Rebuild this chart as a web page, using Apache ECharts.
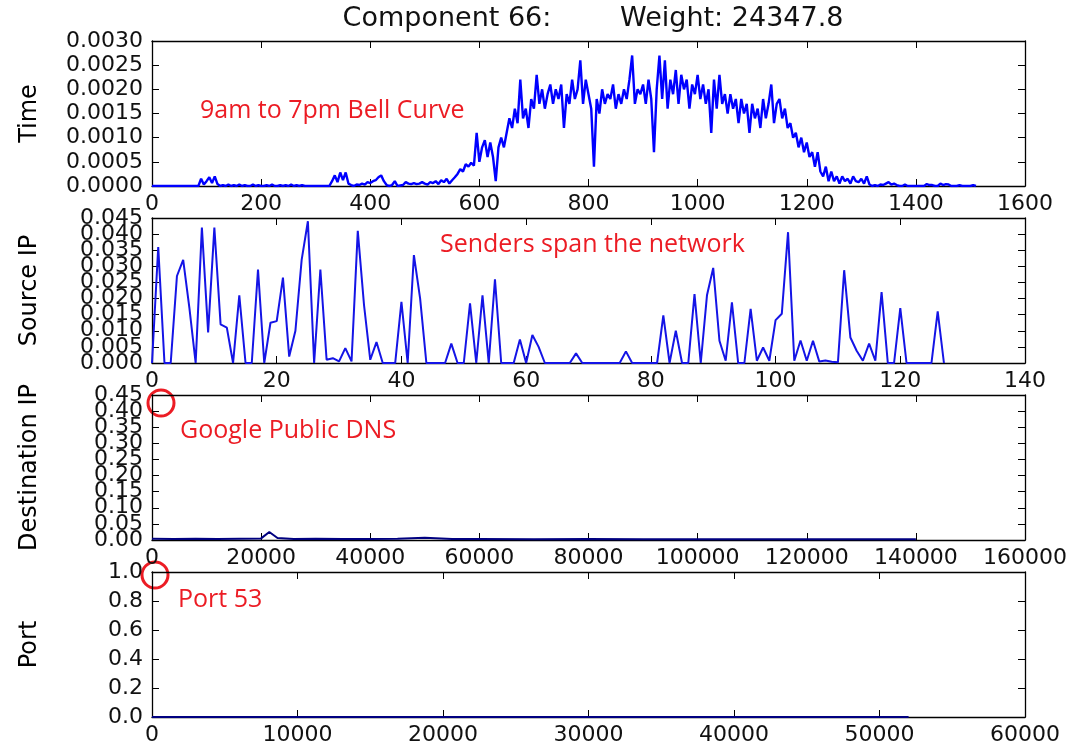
<!DOCTYPE html>
<html>
<head>
<meta charset="utf-8">
<title>Component 66</title>
<script src="https://cdn.jsdelivr.net/npm/echarts@6/dist/echarts.min.js"></script>
<style>
html, body { margin: 0; padding: 0; background: #fff; }
#chart { width: 1087px; height: 746px; }
</style>
</head>
<body>
<div id="chart"></div>
<script>
// Time profile, one value read every 5 units (0 .. 1510)
const timeStep = 5;
const timeVals = [
  0, 0, 0, 0, 0, 0, 0, 0, 0, 0, 0, 0, 0, 0, 0, 0, 0, 0, 0.00015, 0.00003,
  0.0001, 0.00018, 0.00006, 0.0002, 0.00004, 0, 0.00002, 0, 0.00003, 0, 0.00002, 0, 0.00003, 0, 0.00002, 0, 0, 0.00003, 0, 0.00002,
  0, 0, 0.00002, 0, 0.00003, 0, 0, 0.00002, 0, 0.00002, 0, 0.00003, 0, 0.00002, 0, 0.00002, 0, 0, 0, 0,
  0, 0, 0, 0, 0, 0, 0.0001, 0.00022, 0.00008, 0.00028, 0.00012, 0.00028, 0.00005, 0.00002, 0, 0.00003, 0.00002, 0.00005, 0.00003, 0.00008,
  0.00006, 0.0001, 0.00012, 0.00018, 0.00022, 0.0001, 0.00002, 0, 0.00002, 0.0001, 0, 0.00001, 0.00002, 0.00008, 0.00005, 0.00004, 0.00006, 0.00004, 0.00005, 0.00008,
  0.00005, 0.00003, 0.00008, 0.00006, 0.0001, 0.00004, 0.00012, 0.00008, 0.00015, 0.00005, 0.00012, 0.00018, 0.00025, 0.00035, 0.0003, 0.00045, 0.0004, 0.00048, 0.00042, 0.0011,
  0.0005, 0.0008, 0.00095, 0.0006, 0.0009, 0.0006, 0.0001, 0.0008, 0.001, 0.0008, 0.0011, 0.0014, 0.0012, 0.0016, 0.0013, 0.0022, 0.0014, 0.0016, 0.0012, 0.0018,
  0.0016, 0.0023, 0.0017, 0.002, 0.0016, 0.0019, 0.0021, 0.0017, 0.002, 0.0018, 0.0021, 0.0012, 0.0019, 0.0017, 0.0022, 0.0018, 0.002, 0.0026, 0.0017, 0.0022,
  0.0019, 0.0016, 0.0004, 0.0018, 0.0015, 0.002, 0.0017, 0.0019, 0.0018, 0.0021, 0.0016, 0.0019, 0.0017, 0.002, 0.0018, 0.0022, 0.0027, 0.0017, 0.002, 0.0019,
  0.0021, 0.0017, 0.0022, 0.0018, 0.0007, 0.002, 0.0027, 0.0018, 0.0026, 0.0016, 0.0022, 0.0019, 0.0024, 0.0017, 0.0023, 0.002, 0.0022, 0.0016, 0.0021, 0.0019,
  0.0023, 0.0018, 0.0021, 0.0017, 0.002, 0.0011, 0.0022, 0.0016, 0.0023, 0.0017, 0.0019, 0.0015, 0.0019, 0.0016, 0.0018, 0.0013, 0.0018, 0.0015, 0.0017, 0.0011,
  0.0017, 0.0014, 0.0016, 0.0012, 0.0018, 0.0014, 0.0017, 0.0021, 0.0013, 0.0017, 0.0018, 0.0014, 0.0016, 0.0012, 0.0013, 0.001, 0.0011, 0.0008, 0.001, 0.0007,
  0.0009, 0.0006, 0.0007, 0.0004, 0.0007, 0.0003, 0.0002, 0.0004, 0.0001, 0.0003, 0.0001, 0.0002, 0.00005, 0.0002, 0.0001, 0.00015, 0.00005, 0.0002, 0.0001, 0.00008,
  0.00015, 0.00005, 0.0002, 0.00003, 0, 0.00002, 0, 0.00003, 0.00002, 0.00005, 0.00008, 0.00003, 0.00005, 0.00002, 0, 0, 0.00003, 0, 0, 0,
  0, 0, 0, 0, 0.00004, 0.00002, 0.00002, 0, 0, 0.00005, 0.00002, 0.00004, 0.00003, 0, 0, 0, 0.00002, 0, 0, 0,
  0, 0.00002, 0
];

// Source IP, one value per index 0 .. 127
const sourceVals = [
  0, 0.036, 0, 0, 0.027, 0.032, 0.017, 0, 0.042, 0.0095,
  0.042, 0.012, 0.011, 0, 0.021, 0, 0, 0.029, 0, 0.0125,
  0.013, 0.0265, 0.002, 0.010, 0.032, 0.044, 0, 0.029, 0.001, 0.0015,
  0.0005, 0.0046, 0.0005, 0.041, 0.018, 0.001, 0.0065, 0, 0, 0,
  0.019, 0, 0.0335, 0.020, 0, 0, 0, 0, 0.006, 0,
  0, 0.0185, 0, 0.021, 0, 0.026, 0, 0, 0, 0.0073,
  0, 0.0087, 0.005, 0, 0, 0, 0, 0, 0.003, 0,
  0, 0, 0, 0, 0, 0, 0.0036, 0, 0, 0,
  0, 0, 0.0148, 0, 0.010, 0, 0, 0.0214, 0, 0.021,
  0.0295, 0.0069, 0.0007, 0.0188, 0, 0, 0.0168, 0.0007, 0.0048, 0.0007,
  0.0133, 0.0153, 0.0406, 0.0007, 0.007, 0.0007, 0.0069, 0.0005, 0.0008, 0.0004,
  0.0002, 0.0288, 0.0079, 0.0038, 0.0007, 0.006, 0.0007, 0.022, 0, 0,
  0.017, 0, 0, 0, 0, 0, 0.016, 0
];

// Destination IP
const destX = [0, 4000, 8000, 12000, 16000, 20000, 21500, 23000, 26000, 30000,
  35000, 40000, 45000, 50000, 55000, 60000, 70000, 80000, 90000, 100000,
  110000, 120000, 130000, 140000];
const destY = [0.004, 0.003, 0.004, 0.003, 0.004, 0.005, 0.025, 0.006, 0.003, 0.004,
  0.003, 0.003, 0.004, 0.007, 0.003, 0.003, 0.002, 0.003, 0.002, 0.002,
  0.002, 0.002, 0.002, 0.002];

// Port
const portX = [0, 52000];
const portY = [0, 0];

const panelNames = ['Time', 'Source IP', 'Destination IP', 'Port'];
const xMax = [1600, 140, 160000, 60000];
const xStep = [200, 20, 20000, 10000];
const yMax = [0.003, 0.045, 0.45, 1.0];
const yStep = [0.0005, 0.005, 0.05, 0.2];
const yDigits = [4, 3, 2, 1];

const gridTops = [41, 218, 395, 572];
const gridH = 145;
const font = 'DejaVu Sans';

let grids = [], xAxes = [], yAxes = [];
panelNames.forEach(function (name, k) {
  grids.push({ left: 152, right: 62, top: gridTops[k], height: gridH });
  const tick = { show: true, inside: true, length: 7, lineStyle: { color: '#000', width: 1 } };
  const line = { show: true, onZero: false, lineStyle: { color: '#000', width: 1.3 } };
  const yFmt = function (v) { return v.toFixed(yDigits[k]); };
  xAxes.push({
    type: 'value', gridIndex: k, min: 0, max: xMax[k], interval: xStep[k],
    axisLine: line, axisTick: tick, splitLine: { show: false },
    axisLabel: {
      color: '#111', fontFamily: font, fontSize: 22, margin: 7,
      showMinLabel: true, showMaxLabel: true,
      formatter: function (v) { return String(v); }
    }
  });
  xAxes.push({
    type: 'value', gridIndex: k, position: 'top', min: 0, max: xMax[k], interval: xStep[k],
    axisLine: line, axisTick: tick, splitLine: { show: false }, axisLabel: { show: false }
  });
  // left axis: inner tick labels (min/max labels come from the next axis so none get dropped)
  yAxes.push({
    type: 'value', gridIndex: k, min: 0, max: yMax[k], interval: yStep[k],
    name: name, nameLocation: 'middle', nameGap: 110,
    nameTextStyle: { color: '#000', fontFamily: font, fontSize: 24 },
    axisLine: line, axisTick: tick, splitLine: { show: false },
    axisLabel: {
      color: '#111', fontFamily: font, fontSize: 22, margin: 9,
      showMinLabel: false, showMaxLabel: false, formatter: yFmt
    }
  });
  yAxes.push({
    type: 'value', gridIndex: k, position: 'right', min: 0, max: yMax[k], interval: yStep[k],
    axisLine: line, axisTick: tick, splitLine: { show: false }, axisLabel: { show: false }
  });
  yAxes.push({
    type: 'value', gridIndex: k, position: 'left', min: 0, max: yMax[k], interval: yMax[k],
    axisLine: { show: false }, axisTick: { show: false }, splitLine: { show: false },
    axisLabel: {
      color: '#111', fontFamily: font, fontSize: 22, margin: 9,
      showMinLabel: true, showMaxLabel: true, formatter: yFmt
    }
  });
});

const seriesData = [
  timeVals.map(function (v, i) { return [i * timeStep, v]; }),
  sourceVals.map(function (v, i) { return [i, v]; }),
  destX.map(function (x, i) { return [x, destY[i]]; }),
  portX.map(function (x, i) { return [x, portY[i]]; })
];
const lineColors = ['#0000ff', '#1414e6', '#000080', '#000080'];
const lineWidths = [2.4, 2, 2, 2];

const series = seriesData.map(function (d, k) {
  return {
    type: 'line', xAxisIndex: k * 2, yAxisIndex: k * 3, data: d,
    showSymbol: false, symbol: 'none', clip: true,
    lineStyle: { color: lineColors[k], width: lineWidths[k] }
  };
});

const red = '#ec1c24';
const option = {
  animation: false,
  backgroundColor: '#fff',
  grid: grids,
  xAxis: xAxes,
  yAxis: yAxes,
  series: series,
  graphic: [
    { type: 'text', x: 593, y: 19, style: { text: 'Component 66:        Weight: 24347.8', font: '27px "DejaVu Sans"', fill: '#111', align: 'center', verticalAlign: 'middle' } },
    { type: 'text', x: 200, y: 111, style: { text: '9am to 7pm Bell Curve', font: '25px "Open Sans"', fill: red, verticalAlign: 'middle' } },
    { type: 'text', x: 440, y: 245, style: { text: 'Senders span the network', font: '25px "Open Sans"', fill: red, verticalAlign: 'middle' } },
    { type: 'text', x: 180, y: 431, style: { text: 'Google Public DNS', font: '25px "Open Sans"', fill: red, verticalAlign: 'middle' } },
    { type: 'text', x: 178, y: 600, style: { text: 'Port 53', font: '25px "Open Sans"', fill: red, verticalAlign: 'middle' } },
    { type: 'circle', shape: { cx: 161, cy: 403, r: 13 }, style: { fill: 'none', stroke: red, lineWidth: 3 } },
    { type: 'circle', shape: { cx: 155, cy: 575, r: 13 }, style: { fill: 'none', stroke: red, lineWidth: 3 } }
  ]
};

let myChart = echarts.init(document.getElementById('chart'));
myChart.setOption(option);
</script>
</body>
</html>
